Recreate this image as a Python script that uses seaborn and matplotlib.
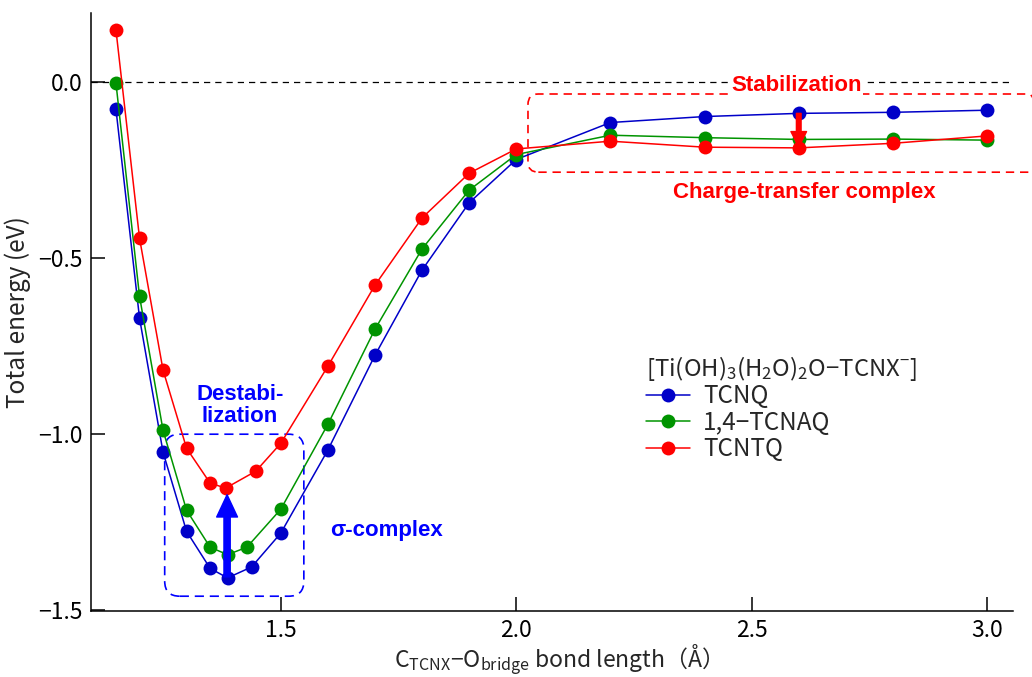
import numpy as np
import pandas as pd
import matplotlib
matplotlib.use("Agg")
import matplotlib.pyplot as plt
import seaborn as sns
from matplotlib.patches import FancyBboxPatch
from matplotlib.ticker import FuncFormatter

# bond length (A) and total energy (eV) per system
bond_tcnq = [1.15, 1.20, 1.25, 1.30, 1.35, 1.387, 1.438, 1.50, 1.60, 1.70, 1.80, 1.90, 2.00, 2.20, 2.40, 2.60, 2.80, 3.00]
energy_tcnq = [-0.077, -0.670, -1.051, -1.276, -1.381, -1.408, -1.377, -1.281, -1.045, -0.776, -0.534, -0.343, -0.220, -0.115, -0.098, -0.089, -0.086, -0.080]

bond_tcnaq = [1.15, 1.20, 1.25, 1.30, 1.35, 1.387, 1.428, 1.50, 1.60, 1.70, 1.80, 1.90, 2.00, 2.20, 2.40, 2.60, 2.80, 3.00]
energy_tcnaq = [-0.003, -0.608, -0.989, -1.216, -1.321, -1.342, -1.321, -1.213, -0.972, -0.702, -0.474, -0.307, -0.206, -0.151, -0.158, -0.163, -0.162, -0.165]

bond_tcntq = [1.15, 1.20, 1.25, 1.30, 1.35, 1.383, 1.447, 1.50, 1.60, 1.70, 1.80, 1.90, 2.00, 2.20, 2.40, 2.60, 2.80, 3.00]
energy_tcntq = [0.148, -0.443, -0.818, -1.040, -1.139, -1.153, -1.105, -1.026, -0.807, -0.577, -0.386, -0.259, -0.190, -0.168, -0.185, -0.187, -0.174, -0.153]

labels = ["TCNQ", "1,4\u2212TCNAQ", "TCNTQ"]
colors = ["#0000c8", "#009400", "#ff0000"]

sns.set_style("ticks")
plt.rcParams['font.family'] = ['Noto Sans CJK JP', 'DejaVu Sans']
plt.rcParams['mathtext.default'] = 'regular'

fig = plt.figure(figsize=(10.32, 6.77), dpi=100)
ax = fig.add_axes([91 / 1032, 66 / 677, 922 / 1032, 598 / 677])

# draw order: blue, red, green (green sits on top)
for i in [0, 2, 1]:
    xs = [bond_tcnq, bond_tcnaq, bond_tcntq][i]
    ys = [energy_tcnq, energy_tcnaq, energy_tcntq][i]
    sns.lineplot(x=xs, y=ys, ax=ax, color=colors[i], marker='o', markersize=10,
                 markeredgewidth=0, linewidth=1.1, label=labels[i],
                 estimator=None, sort=False, zorder=3 + i)

ax.axhline(0, color='black', lw=0.9, ls=(0, (5, 4)), zorder=1)

ax.set_xlim(1.097, 3.055)
ax.set_ylim(-1.502, 0.196)
ax.set_xticks([1.5, 2.0, 2.5, 3.0])
ax.set_yticks([0.0, -0.5, -1.0, -1.5])
fmt = FuncFormatter(lambda v, p: f"{v:.1f}".replace("-", "\u2212"))
ax.xaxis.set_major_formatter(fmt)
ax.yaxis.set_major_formatter(fmt)
ax.tick_params(direction='in', length=10, width=1.1, labelsize=16.5, colors='black')
ax.tick_params(axis='x', pad=6)
ax.tick_params(axis='y', pad=6)
sns.despine(ax=ax)
for s in ['left', 'bottom']:
    ax.spines[s].set_linewidth(1.1)
    ax.spines[s].set_color('black')

ax.set_xlabel("C$_{TCNX}$\u2212O$_{bridge}$ bond length（Å）", fontsize=16.5, labelpad=0)
ax.set_ylabel("Total energy (eV)", fontsize=17.5, labelpad=5)

# dashed rounded boxes (aspect corrected so corners stay round)
asp = (1 / 352) / (1 / 470.67)
blue_box = FancyBboxPatch((1.2535, -1.460), 1.549 - 1.2535, 0.460,
                          boxstyle="round,pad=0,rounding_size=0.032", mutation_aspect=asp,
                          fill=False, ec='#0000ff', lw=1.2, ls=(0, (5.5, 3.5)), zorder=2)
ax.add_patch(blue_box)
red_box = FancyBboxPatch((2.025, -0.256), 3.11 - 2.025, 0.222,
                         boxstyle="round,pad=0,rounding_size=0.022", mutation_aspect=asp,
                         fill=False, ec='#ff0000', lw=1.2, ls=(0, (5, 3.5)), zorder=2,
                         clip_on=False)
ax.add_patch(red_box)

bold = dict(family='Liberation Sans', weight='bold', fontsize=16, ha='center', va='center')
ax.text(2.596, -0.0085, "Stabilization", color='#ff0000', zorder=6,
        bbox=dict(fc='white', ec='none', pad=0.5), **bold)
ax.text(2.611, -0.3125, "Charge-transfer complex", color='#ff0000', **bold)
ax.text(1.413, -0.918, "Destabi-\nlization", color='#0000ff', linespacing=1.05, **bold)
ax.text(1.725, -1.273, "\u03c3-complex", color='#0000ff', **bold)

arrow_style = "simple,head_width=1.5,head_length=1.6,tail_width=0.45"
ax.annotate("", xy=(1.386, -1.172), xytext=(1.386, -1.405),
            arrowprops=dict(arrowstyle=arrow_style, color='#0000ff', mutation_scale=10,
                            shrinkA=0, shrinkB=0), zorder=7)
ax.annotate("", xy=(2.6, -0.185), xytext=(2.6, -0.089),
            arrowprops=dict(arrowstyle="simple,head_width=1.5,head_length=1.5,tail_width=0.45",
                            color='#ff0000', mutation_scale=7.5, shrinkA=0, shrinkB=0), zorder=7)

handles, labs = ax.get_legend_handles_labels()
order = [labs.index(l) for l in labels]
leg = ax.legend([handles[k] for k in order], [labs[k] for k in order],
                title="[Ti(OH)$_3$(H$_2$O)$_2$O\u2212TCNX$^{-}$]",
                loc='upper left', bbox_to_anchor=(0.602, 0.43), frameon=False,
                fontsize=17.5, title_fontsize=17.2, handlelength=1.8, handletextpad=0.55,
                labelspacing=0.02, borderpad=0, borderaxespad=0, alignment='left')

fig.savefig("out.png", dpi=100)
